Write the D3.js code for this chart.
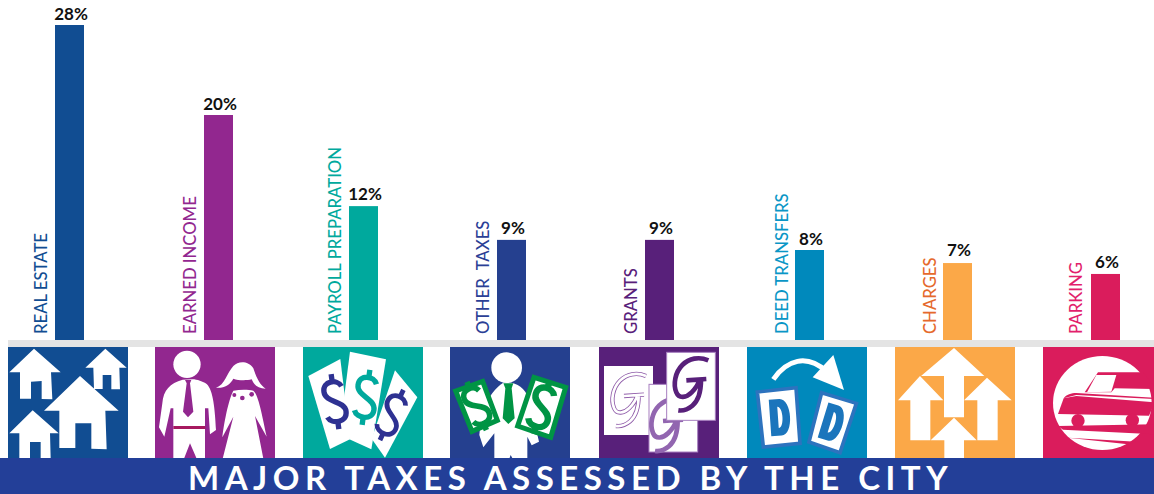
<!DOCTYPE html>
<html><head><meta charset="utf-8">
<script src="https://cdn.jsdelivr.net/npm/d3@7"></script>
<style>html,body{margin:0;padding:0;background:#fff;overflow:hidden}svg{display:block}</style>
</head><body><svg id="c" width="1154" height="494"></svg>
<script>
const categories = ["REAL ESTATE","EARNED INCOME","PAYROLL PREPARATION","OTHER \u00a0TAXES","GRANTS","DEED TRANSFERS","CHARGES","PARKING"];
const values = [28,20,11.9,8.9,8.9,8,6.84,5.87];
const labelValues = [28,20,12,9,9,8,7,6];
const title = "MAJOR TAXES ASSESSED BY THE CITY";

const barColors = ["#114d92","#92278f","#00a99d","#25408f","#58207a","#0089bc","#fba848","#da1c5c"];
const labelColors = ["#114d92","#92278f","#00a99d","#2b3f96","#58207a","#0a96c6","#e5692c","#e21f6d"];
const barLefts = [55,204,349,497,645,795,943,1091];
const boxLefts = [8,155,303,450,599,747,895,1043];
const labelCentres = [40,189,334,482,630,781,929,1075];

const svg = d3.select("#c");
const y = d3.scaleLinear().domain([0,28]).range([340,25]);
const xBar = d3.scaleOrdinal().domain(categories).range(barLefts);
const xBox = d3.scaleOrdinal().domain(categories).range(boxLefts);
const xLabel = d3.scaleOrdinal().domain(categories).range(labelCentres);
const fill = d3.scaleOrdinal().domain(categories).range(barColors);
const ink = d3.scaleOrdinal().domain(categories).range(labelColors);
const barW = 29, boxW = 120, boxTop = 347, boxBottom = 458;
const rows = categories.map((c,i)=>({c,v:values[i],l:labelValues[i],i}));

// grey shelf
svg.append("rect").attr("x",8).attr("y",340).attr("width",1146).attr("height",7).attr("fill","#e4e4e4");

// bars
svg.selectAll("rect.bar").data(rows).join("rect").attr("class","bar")
  .attr("x",d=>xBar(d.c)).attr("width",barW)
  .attr("y",d=>y(d.v)).attr("height",d=>y(0)-y(d.v)).attr("fill",d=>fill(d.c));

svg.selectAll("text.val").data(rows).join("text").attr("class","val")
  .attr("x",d=>xBar(d.c)+barW/2+1.5).attr("y",d=>y(d.l)-5)
  .attr("text-anchor","middle").attr("font-family","Lato").attr("font-weight",700)
  .attr("font-size",17).attr("fill","#111").text(d=>d.l+"%");

svg.selectAll("text.lab").data(rows).join("text").attr("class","lab")
  .attr("transform",d=>`translate(${xLabel(d.c)+6.5},334) rotate(-90)`)
  .attr("font-family","Lato").attr("font-weight",500).attr("font-size",16.7).attr("fill",d=>ink(d.c))
  .text(d=>d.c);

// icon boxes
const defs = svg.append("defs");
const boxes = svg.selectAll("g.box").data(rows).join("g").attr("class","box");
boxes.append("rect").attr("x",d=>xBox(d.c)).attr("y",boxTop).attr("width",boxW).attr("height",boxBottom-boxTop).attr("fill",d=>fill(d.c));
rows.forEach(d=>defs.append("clipPath").attr("id","clip"+d.i).append("rect")
  .attr("x",xBox(d.c)).attr("y",boxTop).attr("width",boxW).attr("height",boxBottom-boxTop));

// Icon drawings are pictograms in a 3x local grid (origin ox,oy in that grid).
function icon(i,ox,oy){
  const c = categories[i];
  return svg.append("g").attr("clip-path",`url(#clip${i})`)
    .append("g").attr("transform",`translate(${xBox(c)-ox/3},${oy}) scale(${1/3})`);
}
const W="#fff";
const poly=(g,p,f,extra={})=>{const e=g.append("polygon").attr("points",p).attr("fill",f);for(const k in extra)e.attr(k,extra[k]);return e;};
const pth=(g,p,f,extra={})=>{const e=g.append("path").attr("d",p).attr("fill",f);for(const k in extra)e.attr(k,extra[k]);return e;};
const dollarD="M16,-27 C10,-42 -18,-42 -18,-21 C-18,0 18,0 18,21 C18,42 -12,42 -18,27 M0,-52 L0,-38 M0,38 L0,52";
const dollar=(g,x,yy,r,s,col,sw)=>g.append("path").attr("d",dollarD).attr("fill","none").attr("stroke",col)
  .attr("stroke-width",sw).attr("transform",`translate(${x},${yy}) rotate(${r}) scale(${s})`);

// 1 houses
{const g=icon(0,24,340);
 poly(g,"102,26 28,97 60,97 60,176 93,176 93,125 125,123 125,177 157,178 153,97 182,97",W);
 poly(g,"316,26 380,83 358,83 360,148 334,148 334,105 308,105 308,147 282,147 280,83 256,83",W);
 poly(g,"240,108 356,212 316,212 320,328 274,326 274,250 226,250 226,324 178,324 178,212 132,212",W);
 poly(g,"98,211 176,280 150,280 152,356 122,356 122,306 90,306 90,356 58,356 58,280 28,280",W);}
// 2 couple
{const g=icon(1,465,340);
 g.append("circle").attr("cx",561).attr("cy",73).attr("r",41).attr("fill",W);
 pth(g,"M548,119 C510,130 490,150 487,190 L477,262 L493,290 L512,205 L520,205 L520,356 L552,356 L570,310 L590,356 L615,356 L615,205 L625,205 L630,283 L648,270 C645,210 640,150 620,132 C610,125 590,118 578,118 Z",W);
 pth(g,"M555,120 L574,120 L570,130 L580,215 L564,232 L549,215 L560,130 Z","#92278f");
 g.append("rect").attr("x",520).attr("y",258).attr("width",96).attr("height",9).attr("fill","#a6195f");
 pth(g,"M648,143 C675,135 680,100 700,78 C715,62 745,62 760,85 C770,115 780,135 797,146 C775,146 762,135 755,118 C740,122 715,122 700,116 C690,135 670,146 648,143 Z",W);
 pth(g,"M700,152 C720,148 745,148 760,152 C775,165 785,220 800,290 L765,228 L790,356 L668,356 L700,230 L667,292 C672,250 685,180 700,152 Z",W);
 [[703,165,6],[727,174,7],[755,163,7]].forEach(p=>g.append("circle").attr("cx",p[0]).attr("cy",p[1]).attr("r",p[2]).attr("fill","#92278f"));}
// 3 bills
{const g=icon(2,909,340);
 poly(g,"925,108 1021,57 1050,298 990,327",W);
 poly(g,"1185,91 1252,172 1155,353 1115,296",W);
 poly(g,"1050,35 1158,58 1114,328 1048,298 1030,190",W);
 dollar(g,1005,185,-8,1.6,"#2e3192",10);
 dollar(g,1098,172,8,1.6,"#00a99d",10);
 dollar(g,1175,225,25,1.6,"#2e3192",9);}
// 4 man with bills
{const g=icon(3,30,340);
 g.append("circle").attr("cx",200).attr("cy",83).attr("r",46).attr("fill",W);
 pth(g,"M190,128 L215,128 C240,135 262,150 270,190 L297,305 L275,316 L262,290 L262,356 L218,356 L212,345 L208,356 L163,356 L163,280 L130,322 L118,285 C125,220 140,160 190,128 Z",W);
 pth(g,"M190,130 L220,130 L215,145 L224,235 L205,252 L188,235 L196,145 Z","#009444");
 poly(g,"47,153 128,124 172,241 96,274",W,{stroke:"#009444","stroke-width":15});
 poly(g,"282,112 377,142 332,292 233,258",W,{stroke:"#009444","stroke-width":15});
 dollar(g,110,198,-22,1.5,"#009444",11);
 dollar(g,305,202,17,1.6,"#009444",12);}
// 5 letters
{const g=icon(4,0,345);
 const glyph="M328,46 C300,34 270,40 250,60 C228,82 222,118 232,142 C240,162 262,158 278,142 C290,130 298,118 302,104 M262,106 L322,102 M306,104 C306,140 300,165 280,182 C268,192 252,198 238,196";
 g.append("rect").attr("x",15).attr("y",63).attr("width",147).attr("height",207).attr("fill",W);
 const o=g.append("g").attr("transform","translate(-187,47)");
 o.append("path").attr("d",glyph).attr("fill","none").attr("stroke","#8e5aa8").attr("stroke-width",13);
 o.append("path").attr("d",glyph).attr("fill","none").attr("stroke",W).attr("stroke-width",8);
 g.append("rect").attr("x",150).attr("y",118).attr("width",146).attr("height",203).attr("fill",W).attr("stroke","#a77fc0").attr("stroke-width",3);
 g.append("path").attr("d",glyph).attr("transform","translate(-70,122)").attr("fill","none").attr("stroke","#9266b0").attr("stroke-width",14);
 g.append("rect").attr("x",203).attr("y",22).attr("width",146).attr("height",204).attr("fill",W).attr("stroke","#a77fc0").attr("stroke-width",3);
 g.append("path").attr("d",glyph).attr("fill","none").attr("stroke","#58207a").attr("stroke-width",14);}
// 6 deed
{const g=icon(5,921,340);
 g.append("path").attr("d","M1000,118 C1040,60 1100,40 1160,95").attr("fill","none").attr("stroke",W).attr("stroke-width",15);
 poly(g,"1180,45 1212,150 1118,112",W);
 const D="M-28,-55 L3,-55 C42,-55 42,55 3,55 L-28,55 Z M-4,-32 L-4,32 C14,32 14,-32 -4,-32 Z";
 poly(g,"952,156 1068,143 1080,310 970,321",W,{stroke:"#2d73be","stroke-width":11});
 poly(g,"1145,158 1249,190 1200,338 1107,306",W,{stroke:"#2d73be","stroke-width":11});
 pth(g,D,"#1b75bc",{transform:"translate(1018,232) rotate(-4)","fill-rule":"evenodd"});
 pth(g,D,"#1b75bc",{transform:"translate(1176,248) rotate(17)","fill-rule":"evenodd"});}
// 7 arrows
{const g=icon(6,105,340);
 poly(g,"282,24 373,108 312,108 312,232 252,232 252,108 183,108",W);
 poly(g,"180,108 250,181 211,181 211,301 151,301 151,181 114,181",W);
 poly(g,"381,113 455,181 413,181 413,301 352,301 352,181 312,181",W);
 poly(g,"282,233 350,301 312,301 312,356 253,356 253,301 212,301",W);}
// 8 train
{const g=icon(7,0,345), P="#da1c5c";
 g.append("ellipse").attr("cx",178).attr("cy",174).attr("rx",148).attr("ry",141).attr("fill",W);
 poly(g,"165,82 300,82 340,132 215,130 205,142 125,142",P);
 poly(g,"160,90 220,90 205,140 132,142",W);
 pth(g,"M62,160 C70,148 85,144 100,144 L335,158 L335,162 L100,150 Z",P);
 poly(g,"62,160 100,153 335,172 318,212 45,207",P);
 g.append("circle").attr("cx",105).attr("cy",227).attr("r",20).attr("fill",P);
 g.append("circle").attr("cx",268).attr("cy",226).attr("r",20).attr("fill",P);
 poly(g,"45,243 335,238 335,268 60,254",P);
 poly(g,"75,278 280,290 255,298",P);}

// title band
svg.append("rect").attr("x",0).attr("y",boxBottom).attr("width",1154).attr("height",36).attr("fill","#233f98");
svg.append("text").attr("x",188).attr("y",490).attr("font-family","Lato").attr("font-weight",700)
  .attr("font-size",33).attr("letter-spacing",5.5).attr("fill","#fff").text(title);
</script></body></html>
